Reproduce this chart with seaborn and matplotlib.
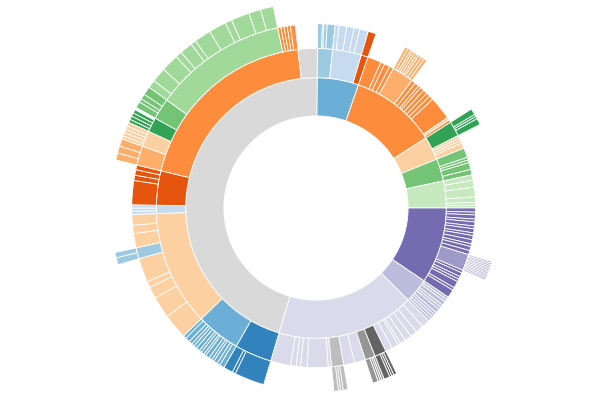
import numpy as np
import matplotlib
matplotlib.use("Agg")
import matplotlib.pyplot as plt
import seaborn as sns

# sizes are in "degree" units (each ring sums to 360); None = empty slot
ring1 = [
    ("B1", [18.5]), ("O1", [38.5]), ("O3", [10.5]), ("G1", [10]), ("G3", [12]),
    ("P0", [34]), ("P2", [11]), ("P3", [61.5]), ("K3", [164]),
]

ring2 = [
    ("B2", [5.5]), ("B3", [10.5]), ("O0", [2.5]),
    ("O1", [5, 1.5, 2, 1.5]), ("O2", [8]),
    ("O1", [1.5, 1.5, 1, 1.5, 1.5, 1.5, 1.5, 8.5]), ("O3", [1]), ("O1", [1]),
    ("G0", [5.5]), ("O3", [1, 1, 1, 2]),
    ("G1", [3.5, 1, 1, 2.5, 2]),
    ("G3", [2, 2.5, 3.5, 2, 1, 1]),
    ("P0", [1.5, 1, 1.5, 1, 1.5, 1, 1.5, 1, 1.5, 1.5, 1, 1.5, 1.5]),
    ("P1", [6]),
    ("P0", [1, 1.5, 1, 1, 2.5, 1, 3]),
    ("P2", [1, 1, 1.5, 1, 1, 1.5, 1, 1, 1, 1]),
    ("P3", [3, 3, 2.5, 2.5, 2, 1, 2.5, 2.5]),
    ("K0", [4.3]), ("K1", [3.7]),
    ("P3", [4, 4]), ("K2", [4.4]),
    ("P3", [1.2, 7.6, 2.4, 1.6, 2, 7.3]),
    ("B0", [13.5]), ("B1", [16]), ("O3", [42]), ("B3", [3]), ("O0", [12.5]),
    ("O1", [70]), ("K3", [7]),
]

ring3 = [
    ("B2", [1.5, 0.5, 1, 2.5]),
    ("B3", [1.3, 2.4, 2.3, 1.8, 2.7]),
    ("O0", [2.5]),
    (None, [10]),
    ("O2", [1, 1, 0.7, 0.8, 0.8, 0.7, 1, 1, 1]),
    (None, [20.5]),
    ("G0", [2, 0.7, 0.8, 2]),
    (None, [44]),
    ("P1", [0.5] * 12),
    (None, [41]),
    ("K0", [1, 0.7, 0.7, 1.9]),
    ("K1", [0.7, 0.6, 0.7, 1.7]),
    (None, [8]),
    ("K2", [1.5, 0.8, 0.7, 1.4]),
    (None, [22.1]),
    ("B0", [9.5, 1, 3]),
    ("B1", [1.5, 1, 1.2, 0.8, 1, 1.3, 0.7, 1, 0.8, 1.2, 1, 0.9, 1.1, 1.5, 1]),
    ("O3", [8, 6.8, 3.7, 1.9, 7.6]), ("B2", [3.5]), ("O3", [4.5, 2.6, 3.4]),
    ("B3", [1, 1, 1]),
    ("O0", [7.6, 1.7, 1.7, 1.5]),
    ("O2", [6.1]), ("O3", [5]), ("G0", [4.6]), ("G1", [6.7]), ("G2", [42.1]),
    ("O1", [1, 1, 1, 1, 1.5]),
    (None, [7]),
]

ring4 = [
    (None, [253.5]),
    ("B2", [2, 1.5]),
    (None, [26]),
    ("O2", [2, 2, 2.1]),
    ("O3", [0.9, 1, 1, 1, 1.1]),
    ("G0", [0.9, 1, 1, 1]),
    (None, [0.7]),
    ("G1", [1.8, 1, 1.5, 2.4]),
    ("G2", [2.3, 4.1, 5, 1.8, 3.6, 1.5, 4.8, 4.9, 1.9, 5.2, 3.4, 3.6]),
    (None, [12.5]),
]

rings = [ring1, ring2, ring3, ring4]

sns.set_theme(style="white")
pal = sns.color_palette("tab20c", 20)
families = "BOGPK"


def color_of(key):
    return pal[families.index(key[0]) * 4 + int(key[1])]


fig = plt.figure(figsize=(6, 4), dpi=100)
cx, cy, R = 316, 208, 206
ax = fig.add_axes([(cx - R) / 600, (400 - cy - R) / 400, 2 * R / 600, 2 * R / 400],
                  projection="polar")
ax.set_theta_zero_location("N")
ax.set_theta_direction(-1)
ax.set_ylim(0, R)
ax.set_axis_off()

offset = np.deg2rad(0.5)
for depth, ring in enumerate(rings, start=1):
    sizes, keys = [], []
    for key, vals in ring:
        sizes += vals
        keys += [key] * len(vals)
    sizes = np.array(sizes, dtype=float)
    widths = sizes / sizes.sum() * 2 * np.pi
    starts = offset + np.concatenate([[0], np.cumsum(widths)[:-1]])
    inner = R * np.sqrt(depth / 5)
    outer = R * np.sqrt((depth + 1) / 5)
    for s, w, k in zip(starts, widths, keys):
        if k is None:
            continue
        ax.bar(s, outer - inner, width=w, bottom=inner, align="edge",
               color=color_of(k), edgecolor="white", linewidth=0.6)

fig.savefig("out.png", dpi=100, facecolor="white")
